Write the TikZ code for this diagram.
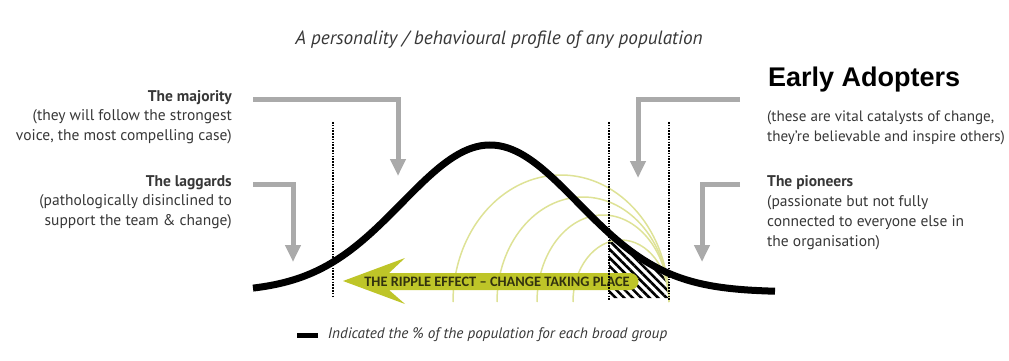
\documentclass[tikz,border=0pt]{standalone}
\usepackage{fontspec}
\setmainfont{PT Sans}
\newfontfamily\headfont{Liberation Sans}
\newfontfamily\ripplefont{Carlito}
\usetikzlibrary{positioning,arrows.meta,patterns.meta}
\definecolor{arrgrey}{RGB}{170,170,170}
\definecolor{ripplegreen}{RGB}{190,197,40}
\definecolor{ripplearc}{RGB}{222,226,150}
\definecolor{txtgrey}{RGB}{55,55,55}
\definecolor{rippletxt}{RGB}{50,50,15}
% normal curve, y downwards
\newcommand{\bellcurve}[1]{292-147*exp(-0.5*((#1-490)/88)^2)}

\begin{document}
\begin{tikzpicture}[x=1pt,y=-1pt,
	greyarr/.style={draw=arrgrey,line width=5pt,-{Triangle[length=17pt,width=15pt]}},
	divider/.style={line width=2pt,dash pattern=on 1.5pt off 1.3pt},
	lbl/.style={font=\fontsize{15.5}{19.5}\selectfont,text=txtgrey,inner sep=0pt}]
	\useasboundingbox (0,0) rectangle (1009,361);
	% hatched early adopters
	\fill[pattern={Lines[angle=-45,distance=6pt,line width=2.5pt]}] (609,298) -- plot[domain=609:669,samples=30] (\x,{\bellcurve{\x}}) -- (669,298) -- cycle;
	% ripples
	\foreach \xl/\ry in {453/127,497/105,537/87,573/62}
		\draw[ripplearc,line width=1.5pt] (\xl,302) arc[start angle=180,delta angle=-180,x radius={(669-\xl)/2*1pt},y radius=\ry pt];
	\fill[ripplegreen] (343,281) -- (405,258) -- (389,273) -- (630,273) arc[start angle=90,delta angle=-180,radius=8.5pt] -- (389,290) -- (405,304) -- cycle;
	\node[font=\ripplefont\bfseries\fontsize{14.4}{16}\selectfont,text=rippletxt,inner sep=0pt] (ripple) at (497,282) {THE RIPPLE EFFECT – CHANGE TAKING PLACE};
	% group borders
	\draw[divider] (333,122) -- (333,297);
	\draw[divider] (609,122) -- (609,300);
	\draw[divider] (669,122) -- (669,300);
	\draw[line width=7pt,domain=253:775,samples=120] plot (\x,{\bellcurve{\x}});
	% labels
	\node[font=\itshape\fontsize{19.2}{22}\selectfont,text=txtgrey] (title) at (499,40) {A personality / behavioural profile of any population};
	\node[lbl,anchor=north east,align=right] (maj) at (232,90) {\textbf{The majority}\\(they will follow the strongest\\voice, the most compelling case)};
	\node[lbl,anchor=north east,align=right] (lag) at (232,175) {\textbf{The laggards}\\(pathologically disinclined to\\support the team \& change)};
	\node[font=\headfont\bfseries\fontsize{27}{30}\selectfont,anchor=west,inner sep=0pt] (ea) at (768,80) {Early Adopters};
	\node[lbl,anchor=north west,align=left,font=\fontsize{15.1}{20}\selectfont] (eatext) at (767,111) {(these are vital catalysts of change,\\they’re believable and inspire others)};
	\node[lbl,anchor=north west,align=left,font=\fontsize{15.5}{20}\selectfont] (pio) at (767,175) {\textbf{The pioneers}\\(passionate but not fully\\connected to everyone else in\\the organisation)};
	% pointers
	\coordinate (majA) at (253,99);
	\coordinate (majB) at (398,176);
	\coordinate (lagA) at (253,184);
	\coordinate (lagB) at (293,262);
	\coordinate (eaA) at (740,99);
	\coordinate (eaB) at (638,178);
	\coordinate (pioA) at (740,184);
	\coordinate (pioB) at (702,262);
	\draw[greyarr] (majA) -| (majB);
	\draw[greyarr] (lagA) -| (lagB);
	\draw[greyarr] (eaA) -| (eaB);
	\draw[greyarr] (pioA) -| (pioB);
	% legend
	\node[fill=black,minimum width=21pt,minimum height=5pt,inner sep=0pt] (key) at (307,335) {};
	\node[right=10pt of key,font=\itshape\fontsize{15.2}{17}\selectfont,text=txtgrey,inner sep=0pt] (keytext) {Indicated the \% of the population for each broad group};
\end{tikzpicture}
\end{document}
